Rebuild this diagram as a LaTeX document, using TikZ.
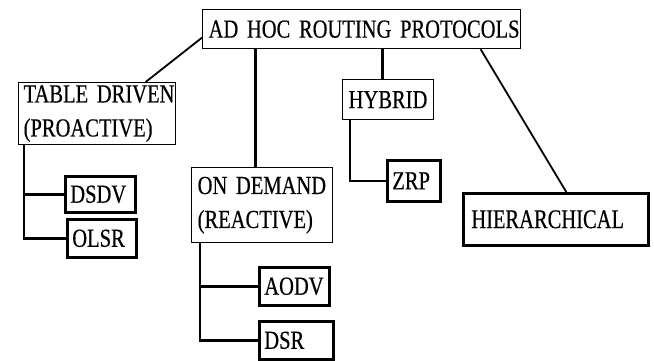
\documentclass[tikz,border=0pt]{standalone}
\usepackage{fontspec}
\setmainfont{Liberation Serif}[FakeStretch=0.79,FakeBold=0.4]
\newfontfamily\widebox{Liberation Serif}[FakeStretch=0.76,FakeBold=0.4]
\begin{document}
\begin{tikzpicture}[x=1pt,y=-1pt,
  every node/.style={font=\fontsize{26}{34}\selectfont},
  thinbox/.style={draw, line width=1.3pt, inner xsep=6pt, inner ysep=0pt,
                  align=left, anchor=north west},
  thickbox/.style={thinbox, line width=2.6pt},
  link/.style={line width=2.6pt},
  slant/.style={line width=1.8pt}]
  \fill[white] (0,0) rectangle (654,360);
  \useasboundingbox (0,0) rectangle (654,360);

  % root and the four protocol families
  \node[thinbox, text width=306pt, minimum height=39pt] (root) at (202,9) {\mbox{AD HOC ROUTING PROTOCOLS}};
  \node[thinbox, text width=147pt, minimum height=62pt, inner xsep=5pt] (table) at (18,82) {\mbox{TABLE DRIVEN}\\\mbox{(PROACTIVE)}};
  \node[thinbox, text width=129pt, minimum height=75pt] (ondemand) at (191,167) {\mbox{ON DEMAND}\\\mbox{(REACTIVE)}};
  \node[thinbox, text width=79pt, minimum height=40pt] (hybrid) at (342,79) {HYBRID};
  \node[thickbox, text width=169pt, minimum height=52pt, inner xsep=8pt,
        font=\widebox\fontsize{27}{34}\selectfont] (hier) at (462,192) {HIERARCHICAL};

  % individual protocols
  \node[thickbox, text width=60pt, minimum height=36pt, inner xsep=5pt] (dsdv) at (64,175) {\mbox{DSDV}};
  \node[thickbox, text width=59pt, minimum height=38pt, inner xsep=5pt] (olsr) at (66,218) {\mbox{OLSR}};
  \node[thickbox, text width=60pt, minimum height=38pt, inner xsep=5pt] (aodv) at (258,266) {\mbox{AODV}};
  \node[thickbox, text width=64pt, minimum height=38pt, inner xsep=5pt] (dsr) at (258,320) {\mbox{DSR}};
  \node[thickbox, text width=43pt, minimum height=41pt, inner xsep=5pt] (zrp) at (386,159) {\mbox{ZRP}};

  % links from the root
  \draw[slant] ([yshift=-8.5pt]root.west) -- ([xshift=48.5pt]table.north);
  \coordinate (odtop) at ([xshift=-6.5pt]ondemand.north);
  \draw[link] (odtop |- root.south) -- (odtop);
  \coordinate (hytop) at ([xshift=-5.5pt]hybrid.north);
  \draw[link] (hytop |- root.south) -- (hytop);
  \draw[slant] ([xshift=119pt]root.south) -- ([xshift=10.5pt]hier.north);

  % family to protocol links
  \coordinate (tdrop) at ([xshift=6pt]table.south west);
  \draw[link] (tdrop) |- (dsdv.west);
  \draw[link] (tdrop) |- (olsr.west);
  \coordinate (oddrop) at ([xshift=9pt]ondemand.south west);
  \draw[link] (oddrop) |- (aodv.west);
  \draw[link] (oddrop) |- (dsr.west);
  \coordinate (hydrop) at ([xshift=8pt]hybrid.south west);
  \draw[link] (hydrop) |- (zrp.west);
\end{tikzpicture}
\end{document}
